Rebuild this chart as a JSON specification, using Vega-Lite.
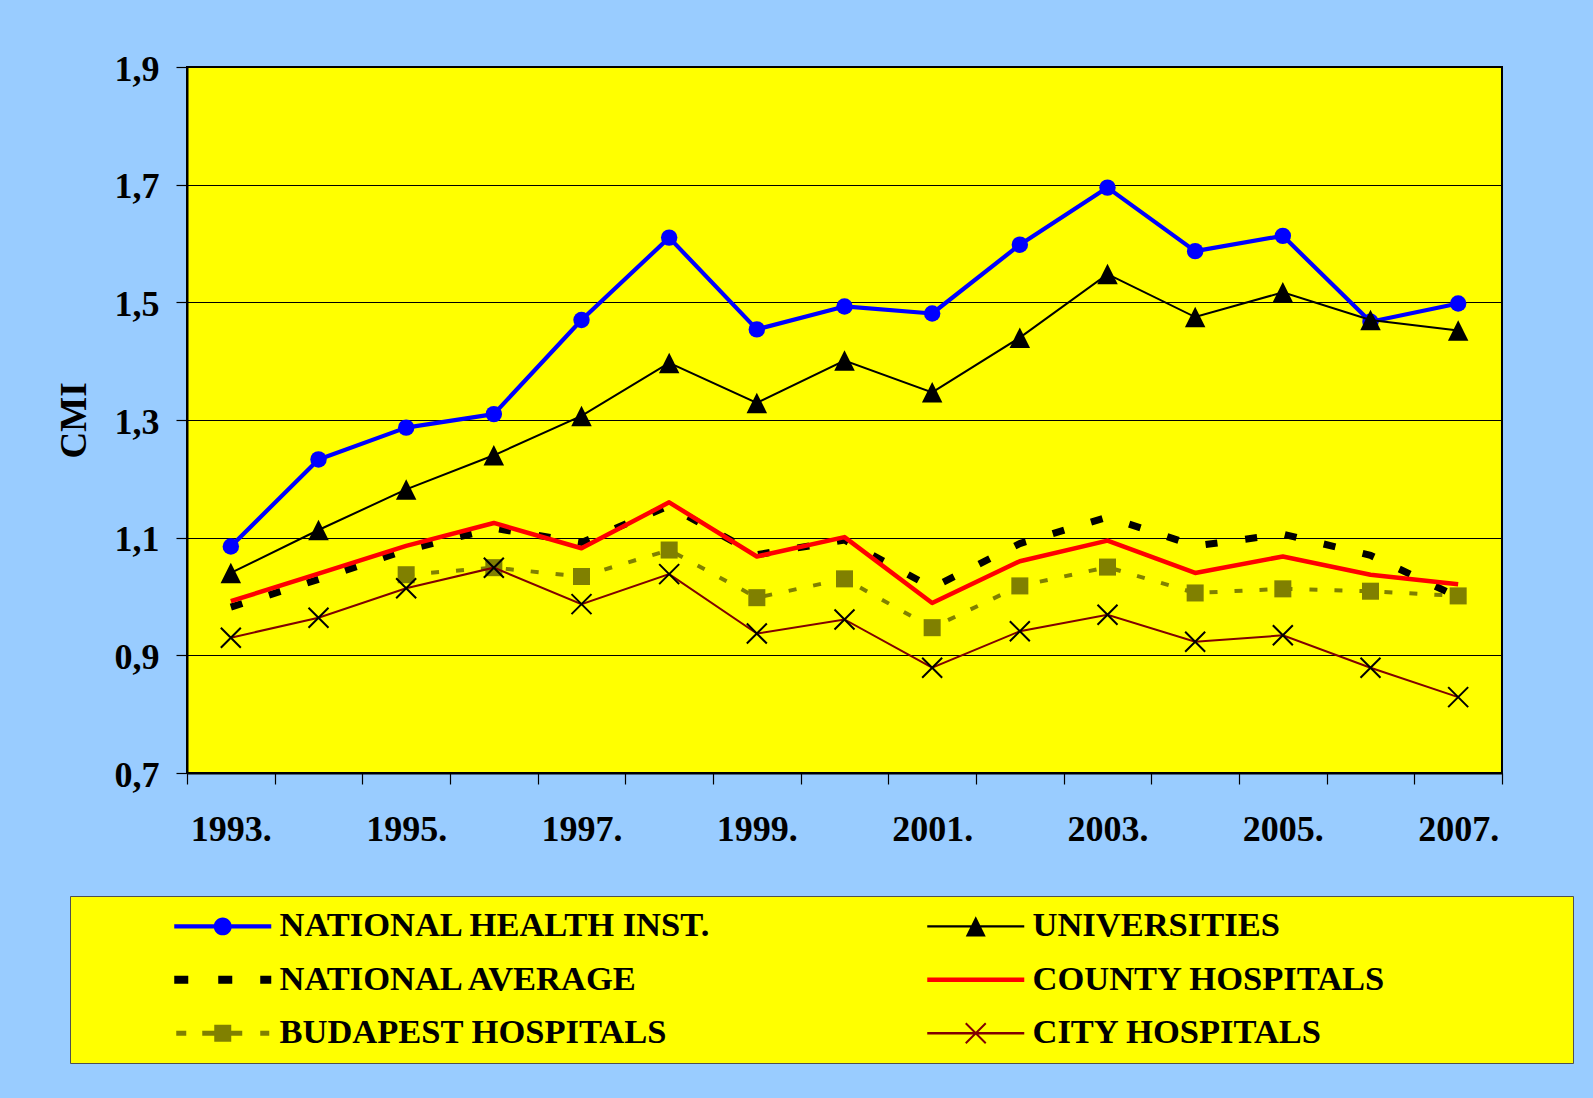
{
  "$schema": "https://vega.github.io/schema/vega-lite/v6.json",
  "autosize": {"type": "none"},
  "width": 1315,
  "height": 706,
  "padding": {"left": 187, "top": 67, "right": 91, "bottom": 325},
  "background": "#99CCFF",
  "view": {"fill": "#FFFF00", "stroke": "#000000", "strokeWidth": 2},
  "data": {"values": [
    {"year": 1993, "series": "NATIONAL HEALTH INST.", "value": 1.085},
    {"year": 1994, "series": "NATIONAL HEALTH INST.", "value": 1.233},
    {"year": 1995, "series": "NATIONAL HEALTH INST.", "value": 1.287},
    {"year": 1996, "series": "NATIONAL HEALTH INST.", "value": 1.310},
    {"year": 1997, "series": "NATIONAL HEALTH INST.", "value": 1.470},
    {"year": 1998, "series": "NATIONAL HEALTH INST.", "value": 1.610},
    {"year": 1999, "series": "NATIONAL HEALTH INST.", "value": 1.454},
    {"year": 2000, "series": "NATIONAL HEALTH INST.", "value": 1.493},
    {"year": 2001, "series": "NATIONAL HEALTH INST.", "value": 1.481},
    {"year": 2002, "series": "NATIONAL HEALTH INST.", "value": 1.598},
    {"year": 2003, "series": "NATIONAL HEALTH INST.", "value": 1.695},
    {"year": 2004, "series": "NATIONAL HEALTH INST.", "value": 1.587},
    {"year": 2005, "series": "NATIONAL HEALTH INST.", "value": 1.613},
    {"year": 2006, "series": "NATIONAL HEALTH INST.", "value": 1.467},
    {"year": 2007, "series": "NATIONAL HEALTH INST.", "value": 1.498},
    {"year": 1993, "series": "UNIVERSITIES", "value": 1.040},
    {"year": 1994, "series": "UNIVERSITIES", "value": 1.113},
    {"year": 1995, "series": "UNIVERSITIES", "value": 1.182},
    {"year": 1996, "series": "UNIVERSITIES", "value": 1.240},
    {"year": 1997, "series": "UNIVERSITIES", "value": 1.307},
    {"year": 1998, "series": "UNIVERSITIES", "value": 1.397},
    {"year": 1999, "series": "UNIVERSITIES", "value": 1.329},
    {"year": 2000, "series": "UNIVERSITIES", "value": 1.401},
    {"year": 2001, "series": "UNIVERSITIES", "value": 1.347},
    {"year": 2002, "series": "UNIVERSITIES", "value": 1.440},
    {"year": 2003, "series": "UNIVERSITIES", "value": 1.548},
    {"year": 2004, "series": "UNIVERSITIES", "value": 1.475},
    {"year": 2005, "series": "UNIVERSITIES", "value": 1.517},
    {"year": 2006, "series": "UNIVERSITIES", "value": 1.470},
    {"year": 2007, "series": "UNIVERSITIES", "value": 1.452},
    {"year": 1993, "series": "NATIONAL AVERAGE", "value": 0.982},
    {"year": 1994, "series": "NATIONAL AVERAGE", "value": 1.029},
    {"year": 1995, "series": "NATIONAL AVERAGE", "value": 1.079},
    {"year": 1996, "series": "NATIONAL AVERAGE", "value": 1.116},
    {"year": 1997, "series": "NATIONAL AVERAGE", "value": 1.092},
    {"year": 1998, "series": "NATIONAL AVERAGE", "value": 1.154},
    {"year": 1999, "series": "NATIONAL AVERAGE", "value": 1.071},
    {"year": 2000, "series": "NATIONAL AVERAGE", "value": 1.096},
    {"year": 2001, "series": "NATIONAL AVERAGE", "value": 1.015},
    {"year": 2002, "series": "NATIONAL AVERAGE", "value": 1.090},
    {"year": 2003, "series": "NATIONAL AVERAGE", "value": 1.135},
    {"year": 2004, "series": "NATIONAL AVERAGE", "value": 1.086},
    {"year": 2005, "series": "NATIONAL AVERAGE", "value": 1.106},
    {"year": 2006, "series": "NATIONAL AVERAGE", "value": 1.070},
    {"year": 2007, "series": "NATIONAL AVERAGE", "value": 0.999},
    {"year": 1993, "series": "COUNTY HOSPITALS", "value": 0.992},
    {"year": 1994, "series": "COUNTY HOSPITALS", "value": 1.039},
    {"year": 1995, "series": "COUNTY HOSPITALS", "value": 1.086},
    {"year": 1996, "series": "COUNTY HOSPITALS", "value": 1.125},
    {"year": 1997, "series": "COUNTY HOSPITALS", "value": 1.082},
    {"year": 1998, "series": "COUNTY HOSPITALS", "value": 1.160},
    {"year": 1999, "series": "COUNTY HOSPITALS", "value": 1.068},
    {"year": 2000, "series": "COUNTY HOSPITALS", "value": 1.101},
    {"year": 2001, "series": "COUNTY HOSPITALS", "value": 0.989},
    {"year": 2002, "series": "COUNTY HOSPITALS", "value": 1.060},
    {"year": 2003, "series": "COUNTY HOSPITALS", "value": 1.095},
    {"year": 2004, "series": "COUNTY HOSPITALS", "value": 1.040},
    {"year": 2005, "series": "COUNTY HOSPITALS", "value": 1.068},
    {"year": 2006, "series": "COUNTY HOSPITALS", "value": 1.037},
    {"year": 2007, "series": "COUNTY HOSPITALS", "value": 1.021},
    {"year": 1995, "series": "BUDAPEST HOSPITALS", "value": 1.037},
    {"year": 1996, "series": "BUDAPEST HOSPITALS", "value": 1.049},
    {"year": 1997, "series": "BUDAPEST HOSPITALS", "value": 1.034},
    {"year": 1998, "series": "BUDAPEST HOSPITALS", "value": 1.079},
    {"year": 1999, "series": "BUDAPEST HOSPITALS", "value": 0.998},
    {"year": 2000, "series": "BUDAPEST HOSPITALS", "value": 1.030},
    {"year": 2001, "series": "BUDAPEST HOSPITALS", "value": 0.947},
    {"year": 2002, "series": "BUDAPEST HOSPITALS", "value": 1.018},
    {"year": 2003, "series": "BUDAPEST HOSPITALS", "value": 1.050},
    {"year": 2004, "series": "BUDAPEST HOSPITALS", "value": 1.006},
    {"year": 2005, "series": "BUDAPEST HOSPITALS", "value": 1.013},
    {"year": 2006, "series": "BUDAPEST HOSPITALS", "value": 1.009},
    {"year": 2007, "series": "BUDAPEST HOSPITALS", "value": 1.001},
    {"year": 1993, "series": "CITY HOSPITALS", "value": 0.930},
    {"year": 1994, "series": "CITY HOSPITALS", "value": 0.964},
    {"year": 1995, "series": "CITY HOSPITALS", "value": 1.014},
    {"year": 1996, "series": "CITY HOSPITALS", "value": 1.049},
    {"year": 1997, "series": "CITY HOSPITALS", "value": 0.987},
    {"year": 1998, "series": "CITY HOSPITALS", "value": 1.038},
    {"year": 1999, "series": "CITY HOSPITALS", "value": 0.937},
    {"year": 2000, "series": "CITY HOSPITALS", "value": 0.961},
    {"year": 2001, "series": "CITY HOSPITALS", "value": 0.879},
    {"year": 2002, "series": "CITY HOSPITALS", "value": 0.941},
    {"year": 2003, "series": "CITY HOSPITALS", "value": 0.969},
    {"year": 2004, "series": "CITY HOSPITALS", "value": 0.923},
    {"year": 2005, "series": "CITY HOSPITALS", "value": 0.934},
    {"year": 2006, "series": "CITY HOSPITALS", "value": 0.879},
    {"year": 2007, "series": "CITY HOSPITALS", "value": 0.829}
  ]},
  "encoding": {
    "x": {
      "field": "year", "type": "quantitative",
      "scale": {"domain": [1992.5, 2007.5], "nice": false, "zero": false},
      "axis": {
        "title": null,
        "values": [1992.5, 1993.5, 1994.5, 1995.5, 1996.5, 1997.5, 1998.5, 1999.5, 2000.5, 2001.5, 2002.5, 2003.5, 2004.5, 2005.5, 2006.5, 2007.5],
        "labelExpr": "datum.value < 2007 && (datum.value - 1992.5) % 2 == 0 ? (datum.value + 0.5) + '.' : ''",
        "labelOffset": 43.83,
        "labelFlush": false, "labelOverlap": false, "labelBound": false,
        "labelFont": "Liberation Serif", "labelFontSize": 36, "labelFontWeight": "bold", "labelColor": "#000000",
        "labelPadding": 28, "tickSize": 11, "tickColor": "#000000", "tickWidth": 1.2,
        "domainColor": "#000000", "domainWidth": 2, "grid": false
      }
    },
    "y": {
      "field": "value", "type": "quantitative",
      "scale": {"domain": [0.7, 1.9], "nice": false, "zero": false},
      "axis": {
        "title": "CMI",
        "titleFont": "Liberation Serif", "titleFontSize": 37, "titleFontWeight": "bold", "titleColor": "#000000",
        "titlePadding": 21,
        "values": [0.7, 0.9, 1.1, 1.3, 1.5, 1.7, 1.9],
        "labelExpr": "replace(format(datum.value, '.1f'), '.', ',')",
        "labelFont": "Liberation Serif", "labelFontSize": 36, "labelFontWeight": "bold", "labelColor": "#000000",
        "labelPadding": 17, "labelOffset": 2, "tickSize": 11, "tickColor": "#000000", "tickWidth": 1.2,
        "domainColor": "#000000", "domainWidth": 2,
        "grid": true, "gridColor": "#000000", "gridWidth": 1, "gridOpacity": 1
      }
    }
  },
  "layer": [
    {"transform": [{"filter": {"field": "series", "equal": "NATIONAL HEALTH INST."}}],
     "mark": {"type": "line", "color": "#0000FF", "strokeWidth": 4.2, "strokeJoin": "round"}},
    {"transform": [{"filter": {"field": "series", "equal": "NATIONAL HEALTH INST."}}],
     "mark": {"type": "point", "shape": "circle", "size": 270, "filled": true, "color": "#0000FF", "opacity": 1}},
    {"transform": [{"filter": {"field": "series", "equal": "UNIVERSITIES"}}],
     "mark": {"type": "line", "color": "#000000", "strokeWidth": 2}},
    {"transform": [{"filter": {"field": "series", "equal": "UNIVERSITIES"}}],
     "mark": {"type": "point", "shape": "M0,-1L1,1L-1,1Z", "size": 420, "filled": true, "color": "#000000", "opacity": 1}},
    {"transform": [{"filter": {"field": "series", "equal": "NATIONAL AVERAGE"}}],
     "mark": {"type": "line", "color": "#000000", "strokeWidth": 7, "strokeDash": [12, 28], "strokeCap": "butt"}},
    {"transform": [{"filter": {"field": "series", "equal": "COUNTY HOSPITALS"}}],
     "mark": {"type": "line", "color": "#FF0000", "strokeWidth": 4.5, "strokeJoin": "round"}},
    {"transform": [{"filter": {"field": "series", "equal": "BUDAPEST HOSPITALS"}}],
     "mark": {"type": "line", "color": "#808000", "strokeWidth": 4, "strokeDash": [8, 17]}},
    {"transform": [{"filter": {"field": "series", "equal": "BUDAPEST HOSPITALS"}}],
     "mark": {"type": "point", "shape": "square", "size": 290, "filled": true, "color": "#808000", "opacity": 1}},
    {"transform": [{"filter": {"field": "series", "equal": "CITY HOSPITALS"}}],
     "mark": {"type": "line", "color": "#800000", "strokeWidth": 2}},
    {"transform": [{"filter": {"field": "series", "equal": "CITY HOSPITALS"}}],
     "mark": {"type": "point", "shape": "M-1,-1L1,1M-1,1L1,-1", "size": 400, "filled": false, "stroke": "#000000", "strokeWidth": 2, "opacity": 1}},
    {
      "data": {"values": [
        {"series": "NATIONAL HEALTH INST."},
        {"series": "UNIVERSITIES"},
        {"series": "NATIONAL AVERAGE"},
        {"series": "COUNTY HOSPITALS"},
        {"series": "BUDAPEST HOSPITALS"},
        {"series": "CITY HOSPITALS"}
      ]},
      "transform": [{"filter": "false"}],
      "mark": {"type": "point", "filled": true, "opacity": 1},
      "encoding": {
        "x": {"field": "year", "type": "quantitative"},
        "y": {"field": "value", "type": "quantitative"},
        "shape": {
          "field": "series", "type": "nominal",
          "scale": {
            "domain": ["NATIONAL HEALTH INST.", "NATIONAL AVERAGE", "BUDAPEST HOSPITALS", "UNIVERSITIES", "COUNTY HOSPITALS", "CITY HOSPITALS"],
            "range": [
              "M-1,-0.118H4.706V0.118H-1Z M1.324,0A0.529,0.529 0 1 1 2.382,0A0.529,0.529 0 1 1 1.324,0Z",
              "M-1,-0.235H-0.176V0.235H-1Z M1.588,-0.235H2.412V0.235H1.588Z M4.059,-0.235H4.706V0.235H4.059Z",
              "M-0.882,-0.147H-0.294V0.147H-0.882Z M0.647,-0.147H1.353V0.147H0.647Z M1.353,-0.5H2.353V0.5H1.353Z M2.353,-0.147H3V0.147H2.353Z M4.059,-0.147H4.588V0.147H4.059Z",
              "M-1,-0.059H4.706V0.059H-1Z M1.853,-0.6L2.441,0.6L1.265,0.6Z",
              "M-1,-0.135H4.706V0.135H-1Z",
              "M-1,-0.07H4.706V0.07H-1Z M1.306,-0.629L2.482,0.547L2.4,0.629L1.224,-0.547Z M1.224,0.547L2.4,-0.629L2.482,-0.547L1.306,0.629Z"
            ]
          },
          "legend": {"title": "\u00a0"}
        },
        "color": {
          "field": "series", "type": "nominal",
          "scale": {
            "domain": ["NATIONAL HEALTH INST.", "NATIONAL AVERAGE", "BUDAPEST HOSPITALS", "UNIVERSITIES", "COUNTY HOSPITALS", "CITY HOSPITALS"],
            "range": ["#0000FF", "#000000", "#808000", "#000000", "#FF0000", "#800000"]
          },
          "legend": {"title": "\u00a0"}
        }
      }
    }
  ],
  "config": {
    "legend": {
      "orient": "none",
      "legendX": -117,
      "legendY": 829,
      "columns": 2,
      "padding": 13,
      "fillColor": "#FFFF00",
      "strokeColor": "#505050",
      "labelFont": "Liberation Serif",
      "labelFontSize": 34.5,
      "labelFontWeight": "bold",
      "labelColor": "#000000",
      "labelLimit": 2000,
      "labelOffset": 71,
      "symbolOffset": 91,
      "symbolSize": 1156,
      "symbolStrokeWidth": 0,
      "symbolOpacity": 1,
      "rowPadding": 18.5,
      "columnPadding": 124,
      "titleOrient": "right",
      "titleFontSize": 1,
      "titleColor": "#FFFF00",
      "titlePadding": 174
    }
  }
}
